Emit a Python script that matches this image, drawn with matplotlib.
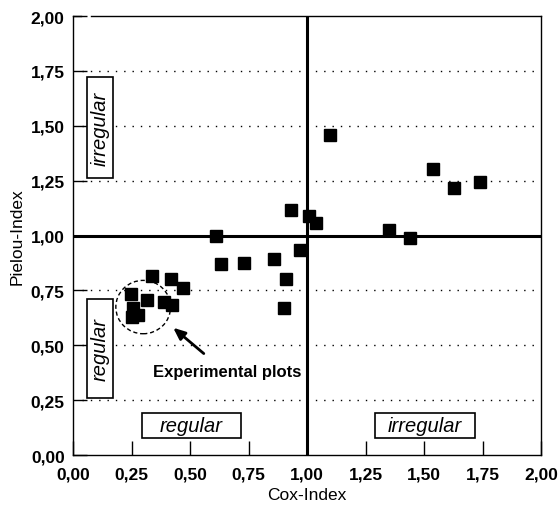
import matplotlib
matplotlib.use("Agg")
import matplotlib.pyplot as plt
from matplotlib.patches import Rectangle, Ellipse
from matplotlib.ticker import FuncFormatter, MultipleLocator

plt.rcParams['font.family'] = ['Liberation Sans', 'DejaVu Sans']

# Cox index vs. Pielou index for each plot
cox = [0.249, 0.253, 0.258, 0.276, 0.318, 0.339, 0.388, 0.42, 0.423, 0.47,
       0.61, 0.632, 0.732, 0.86, 0.90, 0.91, 0.93, 0.97, 1.01, 1.04,
       1.10, 1.35, 1.44, 1.54, 1.63, 1.74]
pielou = [0.735, 0.628, 0.672, 0.636, 0.706, 0.815, 0.698, 0.802, 0.683, 0.763,
          0.997, 0.868, 0.875, 0.893, 0.672, 0.80, 1.115, 0.935, 1.09, 1.055,
          1.458, 1.025, 0.99, 1.303, 1.215, 1.245]

grid_levels = [0.25, 0.5, 0.75, 1.25, 1.5, 1.75]

fig = plt.figure(figsize=(5.59, 5.06), dpi=100)
ax = fig.add_axes([0.1306, 0.0988, 0.8372, 0.8676])

ax.set_xlim(0, 2)
ax.set_ylim(0, 2)

# dotted horizontal guides
for lev in grid_levels:
    ax.plot([0.04, 1.98], [lev, lev], color='black', lw=1.0,
            linestyle=(0, (1, 5)), zorder=1)

# quadrant lines at index = 1
ax.axhline(1.0, color='black', lw=2.2, zorder=2)
ax.axvline(1.0, color='black', lw=2.2, zorder=2)

ax.plot(cox, pielou, 's', color='black', markersize=8.6, zorder=4)

# experimental plots marker
ax.add_patch(Ellipse((0.30, 0.674), 0.234, 0.243, fill=False, lw=1.0,
                     linestyle=(0, (3, 2)), edgecolor='black', zorder=3))
ax.annotate('', xy=(0.419, 0.588), xytext=(0.568, 0.454),
            arrowprops=dict(arrowstyle='-|>,head_length=0.7,head_width=0.3',
                            color='black', lw=2.0))
ax.text(0.657, 0.38, 'Experimental plots', ha='center', va='center',
        fontsize=12, fontweight='bold')

# region labels
boxes = [
    (0.06, 1.26, 0.11, 0.46, 'irregular', 90),
    (0.06, 0.26, 0.11, 0.45, 'regular', 90),
    (0.293, 0.078, 0.425, 0.112, 'regular', 0),
    (1.29, 0.078, 0.43, 0.112, 'irregular', 0),
]
for x0, y0, w, h, label, rot in boxes:
    ax.add_patch(Rectangle((x0, y0), w, h, fill=True, facecolor='white',
                           edgecolor='black', lw=1.2, zorder=5))
    ax.text(x0 + w / 2, y0 + h / 2, label, rotation=rot, ha='center',
            va='center', fontsize=14.5, fontstyle='italic', zorder=6)

# frame: top edge has a small break near the left corner
ax.spines['top'].set_visible(False)
for xs in ([0, 0.018], [0.038, 1]):
    ax.plot(xs, [1, 1], color='black', lw=1.0, transform=ax.transAxes,
            clip_on=False, zorder=5)
for side in ['left', 'right', 'bottom']:
    ax.spines[side].set_linewidth(1.0)

comma = FuncFormatter(lambda v, pos: f'{v:.2f}'.replace('.', ','))
ax.xaxis.set_major_locator(MultipleLocator(0.25))
ax.yaxis.set_major_locator(MultipleLocator(0.25))
ax.xaxis.set_major_formatter(comma)
ax.yaxis.set_major_formatter(comma)
ax.tick_params(direction='in', length=10, width=1.0, labelsize=12.5)
ax.tick_params(axis='x', pad=8)
ax.tick_params(axis='y', pad=6)
for lbl in ax.get_xticklabels() + ax.get_yticklabels():
    lbl.set_fontweight('bold')

ax.set_xlabel('Cox-Index', fontsize=12.5, labelpad=4)
ax.set_ylabel('Pielou-Index', fontsize=12.5, labelpad=4)

fig.savefig('out.png', dpi=100)
